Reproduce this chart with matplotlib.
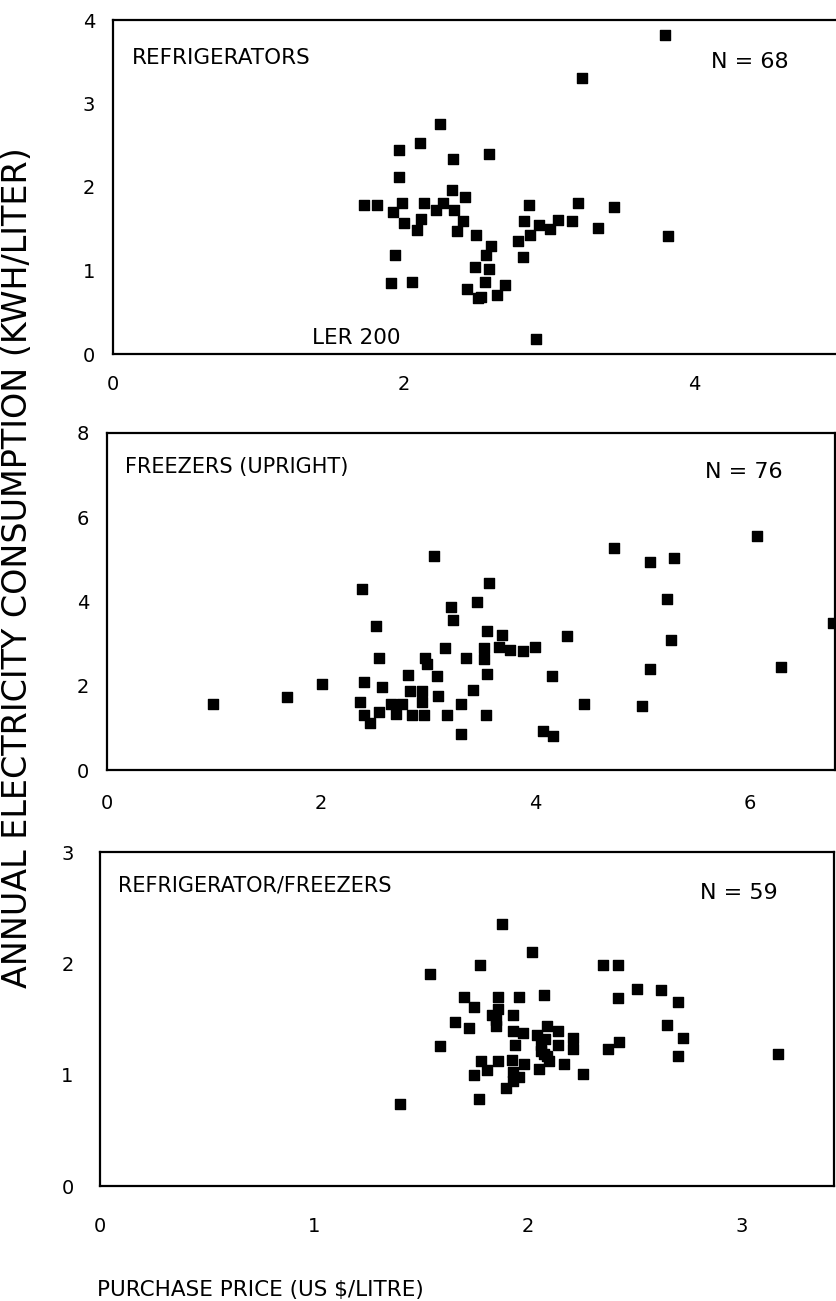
import matplotlib
matplotlib.use('Agg')
import matplotlib.pyplot as plt
import numpy as np

# refrigerators (price US$/litre, kWh/litre)
ref_price = [1.725, 1.82, 1.97, 1.97, 2.11, 2.25, 2.34, 2.335, 2.42, 1.99, 1.93, 2.00, 2.09,
             2.12, 2.14, 2.22, 2.27, 2.345, 2.41, 2.37, 2.50, 1.94, 2.49, 1.91, 2.06, 2.435,
             2.51, 3.80, 3.225, 2.59, 2.60, 2.57, 2.59, 2.56, 2.70, 2.53, 2.64, 2.86, 2.83,
             2.93, 2.87, 2.79, 2.82, 3.01, 3.06, 3.16, 3.20, 3.34, 3.445, 3.82, 2.91]
ref_kwh = [1.79, 1.79, 2.44, 2.12, 2.53, 2.76, 2.34, 1.97, 1.88, 1.81, 1.70, 1.57, 1.49,
           1.62, 1.81, 1.73, 1.81, 1.73, 1.59, 1.47, 1.43, 1.18, 1.04, 0.85, 0.86, 0.78,
           0.67, 3.82, 3.31, 2.40, 1.29, 1.18, 1.02, 0.86, 0.83, 0.68, 0.71, 1.78, 1.59,
           1.55, 1.43, 1.35, 1.16, 1.50, 1.61, 1.59, 1.81, 1.51, 1.755, 1.41, 0.18]

# upright freezers
frz_price = [0.99, 1.68, 2.01, 2.38, 2.51, 2.54, 2.40, 2.36, 2.57, 2.40, 2.46, 2.545, 2.65,
             2.70, 2.76, 2.81, 2.83, 2.85, 2.94, 2.94, 2.96, 2.97, 2.99, 3.05, 3.08, 3.09,
             3.16, 3.18, 3.21, 3.23, 3.31, 3.31, 3.355, 3.42, 3.455, 3.57, 3.55, 3.69, 3.66,
             3.76, 3.52, 3.52, 3.885, 4.00, 4.30, 3.55, 4.16, 3.54, 4.46, 4.07, 4.17, 4.74,
             5.07, 5.30, 5.23, 5.27, 5.07, 5.00, 6.07, 6.30, 6.78]
frz_kwh = [1.57, 1.73, 2.04, 4.29, 3.43, 2.67, 2.10, 1.62, 1.98, 1.31, 1.11, 1.385, 1.57,
           1.32, 1.57, 2.26, 1.88, 1.31, 1.88, 1.62, 1.31, 2.65, 2.51, 5.07, 2.23, 1.76,
           2.89, 1.31, 3.88, 3.55, 1.56, 0.855, 2.67, 1.90, 4.00, 4.43, 3.29, 3.21, 2.93,
           2.85, 2.89, 2.63, 2.83, 2.93, 3.17, 2.28, 2.22, 1.31, 1.57, 0.93, 0.81, 5.28,
           4.93, 5.03, 4.06, 3.09, 2.39, 1.53, 5.56, 2.45, 3.48]

# refrigerator/freezers
rf_price = [1.88, 2.02, 1.775, 2.35, 2.42, 1.54, 2.51, 2.62, 1.70, 1.86, 1.96, 2.075, 2.42,
            2.70, 1.75, 1.86, 1.83, 1.93, 1.66, 1.725, 1.85, 2.65, 1.93, 1.975, 2.04, 2.09,
            2.14, 2.21, 2.725, 1.59, 1.94, 2.06, 2.14, 2.21, 2.375, 2.425, 2.075, 2.70, 3.17,
            1.78, 1.86, 1.925, 2.10, 2.17, 1.81, 1.98, 2.05, 1.75, 1.93, 2.255, 1.93, 1.895,
            1.77, 1.40, 2.08, 2.06, 1.85, 2.09, 1.96]
rf_kwh = [2.35, 2.10, 1.985, 1.985, 1.985, 1.90, 1.77, 1.76, 1.70, 1.70, 1.70, 1.72, 1.69,
          1.65, 1.61, 1.59, 1.535, 1.54, 1.475, 1.42, 1.44, 1.45, 1.39, 1.37, 1.36, 1.44,
          1.39, 1.33, 1.33, 1.26, 1.27, 1.27, 1.265, 1.235, 1.23, 1.295, 1.185, 1.17, 1.185,
          1.125, 1.12, 1.135, 1.126, 1.10, 1.04, 1.10, 1.05, 1.00, 1.02, 1.01, 0.94, 0.88,
          0.78, 0.74, 1.32, 1.215, 1.49, 1.17, 0.98]

W, H = 837, 1301
fig = plt.figure(figsize=(W / 100, H / 100), dpi=100)


def make_ax(left, right, top, bottom):
    # pixel box -> figure fraction
    return fig.add_axes([left / W, 1 - bottom / H, (right - left) / W, (bottom - top) / H])


def style(ax, xlim, ylim, xticks, yticks, xpad, ypad):
    ax.set_xlim(*xlim)
    ax.set_ylim(*ylim)
    ax.set_xticks(xticks)
    ax.set_yticks(yticks)
    ax.set_xticklabels([str(t) for t in xticks])
    ax.set_yticklabels([str(t) for t in yticks])
    ax.tick_params(axis='x', length=0, pad=xpad, labelsize=14)
    ax.tick_params(axis='y', length=0, pad=ypad, labelsize=14)
    for s in ax.spines.values():
        s.set_linewidth(1.6)
        s.set_color('black')


# panel 1
ax1 = make_ax(113, 838, 20, 354)
ax1.scatter(ref_price, ref_kwh, marker='s', s=48, color='black', clip_on=False)
style(ax1, (0, 4.99), (0, 4), [0, 2, 4], [0, 1, 2, 3, 4], 15, 13)
ax1.spines['right'].set_visible(False)
ax1.text(0.026, 0.886, 'REFRIGERATORS', transform=ax1.transAxes, fontsize=15.5, va='center')
ax1.text(0.825, 0.874, 'N = 68', transform=ax1.transAxes, fontsize=16, va='center')
ax1.text(0.275, 0.048, 'LER 200', transform=ax1.transAxes, fontsize=15.5, va='center')

# panel 2
ax2 = make_ax(107, 835, 433, 770)
ax2.scatter(frz_price, frz_kwh, marker='s', s=48, color='black', clip_on=False)
style(ax2, (0, 6.80), (0, 8), [0, 2, 4, 6], [0, 2, 4, 6, 8], 17, 13)
ax2.text(0.025, 0.899, 'FREEZERS (UPRIGHT)', transform=ax2.transAxes, fontsize=15, va='center')
ax2.text(0.821, 0.884, 'N = 76', transform=ax2.transAxes, fontsize=16, va='center')

# panel 3
ax3 = make_ax(100, 834, 852, 1186)
ax3.scatter(rf_price, rf_kwh, marker='s', s=48, color='black', clip_on=False)
style(ax3, (0, 3.43), (0, 3), [0, 1, 2, 3], [0, 1, 2, 3], 22, 19)
ax3.text(0.025, 0.90, 'REFRIGERATOR/FREEZERS', transform=ax3.transAxes, fontsize=15, va='center')
ax3.text(0.817, 0.877, 'N = 59', transform=ax3.transAxes, fontsize=16, va='center')

fig.text(18 / W, 1 - 568 / H, 'ANNUAL ELECTRICITY CONSUMPTION (KWH/LITER)',
         rotation=90, ha='center', va='center', fontsize=24)
fig.text(97 / W, 1 - 1290 / H, 'PURCHASE PRICE (US $/LITRE)', ha='left', va='center', fontsize=15.5)

fig.savefig('out.png', dpi=100)
